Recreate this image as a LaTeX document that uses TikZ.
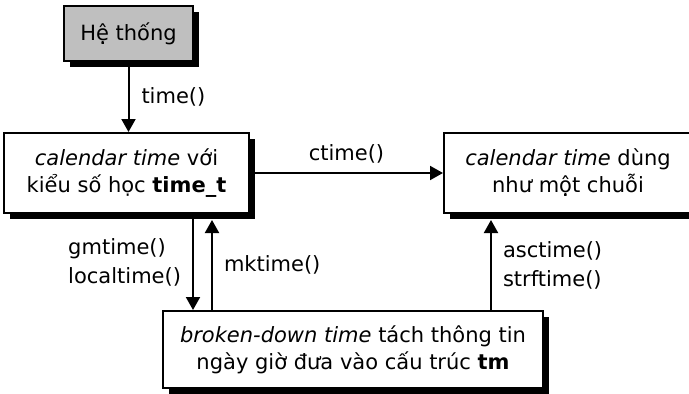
\documentclass[tikz,border=0pt]{standalone}
\usepackage{fontspec}
\setmainfont{DejaVu Sans}
\usetikzlibrary{shadows,arrows.meta}

\tikzset{
  hop/.style={draw, line width=2pt, align=center, fill=white, inner sep=0pt,
    drop shadow={shadow xshift=6pt, shadow yshift=-6pt, fill=black, opacity=1},
    font=\fontsize{21}{27}\selectfont},
  nhan/.style={font=\fontsize{21}{29}\selectfont, align=left, inner sep=0pt},
  mui/.style={line width=2pt, -{Triangle[length=13pt,width=14pt]}}
}

\begin{document}
\begin{tikzpicture}[x=1pt, y=-1pt]
    \useasboundingbox (0,0) rectangle (689,394);
    % Các hộp
    \node[hop, fill=black!25, minimum width=129pt, minimum height=55pt] (sys) at (128.5,33.5) {Hệ thống};
    \node[hop, minimum width=245pt, minimum height=80pt] (cal) at (126.5,173) {\textit{calendar time} với\\kiểu số học \textbf{time\_t}};
    \node[hop, minimum width=248pt, minimum height=80pt] (str) at (568,173) {\textit{calendar time} dùng\\như một chuỗi};
    \node[hop, minimum width=380pt, minimum height=77pt] (brk) at (353,349.5) {\textit{broken-down time} tách thông tin\\ngày giờ đưa vào cấu trúc \textbf{tm}};

    % Các mũi tên
    \draw[mui] (sys.south) -- (sys.south |- cal.north) node[nhan, midway, anchor=west, xshift=12pt] {time()};
    \draw[mui] (cal.east) -- (str.west) node[nhan, midway, yshift=19pt] {ctime()};
    \draw[mui] ([xshift=66.5pt]cal.south) -- ([xshift=66.5pt]cal.south |- brk.north)
        node[nhan, midway, anchor=east, xshift=-11pt] {gmtime()\\localtime()};
    \draw[mui] ([xshift=85.5pt]cal.south |- brk.north) -- ([xshift=85.5pt, yshift=-6pt]cal.south)
        node[nhan, midway, anchor=west, xshift=11pt] {mktime()};
    \draw[mui] ([xshift=138pt]brk.north) -- ([xshift=138pt, yshift=-6pt]brk.north |- str.south)
        node[nhan, midway, anchor=west, xshift=11pt] {asctime()\\strftime()};
\end{tikzpicture}
\end{document}
